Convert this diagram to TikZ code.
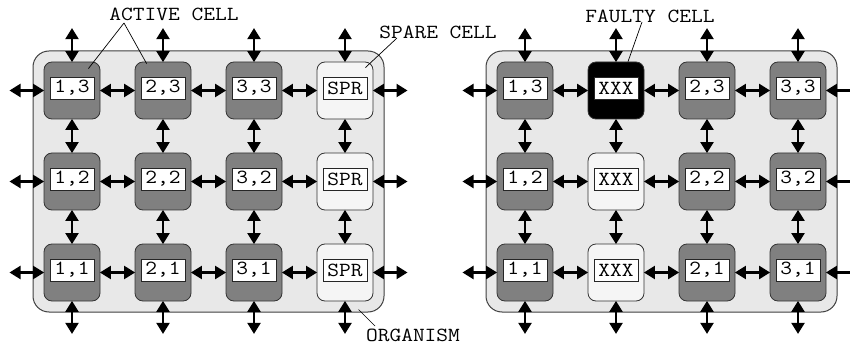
\documentclass[tikz,border=0pt]{standalone}
\usepackage{fontspec}
\setmonofont[FakeStretch=1.14]{Latin Modern Mono}
\usetikzlibrary{arrows.meta,calc}

\begin{document}
\begin{tikzpicture}[x=1pt,y=-1pt,
  organism/.style={draw=black!75, fill=black!9, rounded corners=16pt, line width=1pt,
                   minimum width=351pt, minimum height=261pt, inner sep=0pt},
  cellbox/.style={draw=black!80, rounded corners=8pt, line width=0.8pt,
                  minimum width=56pt, minimum height=57pt, inner sep=0pt},
  activecell/.style={cellbox, fill=black!50},
  sparecell/.style={cellbox, fill=black!4},
  faultycell/.style={cellbox, fill=black},
  tag/.style={draw=black!85, fill=white, line width=0.7pt, minimum width=44pt,
              minimum height=22pt, inner sep=0pt, font=\ttfamily\fontsize{20}{20}\selectfont},
  link/.style={{Triangle[length=11pt,width=13pt]}-{Triangle[length=11pt,width=13pt]},
               line width=2.2pt, shorten <=-0.5pt, shorten >=-0.5pt},
  annot/.style={font=\ttfamily\fontsize{20}{20}\selectfont, inner sep=0pt},
  leader/.style={line width=0.7pt}
]
\clip (0,0) rectangle (850,347);
\useasboundingbox (0,0) rectangle (850,347);

% organisms
\node[organism] (orgL) at (208.5,181.5) {};
\node[organism] (orgR) at (661.5,181.5) {};

% left organism: three active columns and one spare column
\foreach \r/\y/\n in {1/90.5/3, 2/181.5/2, 3/272.5/1} {
  \foreach \c/\x in {1/72, 2/163, 3/254} {
    \node[activecell] (L\c\r) at (\x,\y) {};
    \node[tag] (L\c\r t) at (\x,\y-2.5) {\c,\n};
  }
  \node[sparecell] (L4\r) at (345,\y) {};
  \node[tag] (L4\r t) at (345,\y-2.5) {SPR};
}

% right organism: column 2 replaced, spare column used
\foreach \r/\y/\n in {1/90.5/3, 2/181.5/2, 3/272.5/1} {
  \node[activecell] (R1\r) at (525,\y) {};
  \node[tag] (R1\r t) at (525,\y-2.5) {1,\n};
  \node[activecell] (R3\r) at (707,\y) {};
  \node[tag] (R3\r t) at (707,\y-2.5) {2,\n};
  \node[activecell] (R4\r) at (798,\y) {};
  \node[tag] (R4\r t) at (798,\y-2.5) {3,\n};
}
\node[faultycell] (R21) at (616,90.5) {};
\node[tag] (R21t) at (616,88) {XXX};
\foreach \r/\y in {2/181.5, 3/272.5} {
  \node[sparecell] (R2\r) at (616,\y) {};
  \node[tag] (R2\r t) at (616,\y-2.5) {XXX};
}

% connections
\foreach \p/\xl/\xr in {L/10/407, R/463/864} {
  \foreach \c in {1,2,3,4} {
    \coordinate (\p top\c) at ($(\p\c1.north)+(0,-33)$);
    \coordinate (\p bot\c) at ($(\p\c3.south)+(0,32)$);
    \draw[link] (\p top\c) -- (\p\c1.north);
    \draw[link] (\p\c1.south) -- (\p\c2.north);
    \draw[link] (\p\c2.south) -- (\p\c3.north);
    \draw[link] (\p\c3.south) -- (\p bot\c);
  }
  \foreach \r in {1,2,3} {
    \coordinate (\p left\r) at (\xl,0 |- \p1\r.west);
    \coordinate (\p right\r) at (\xr,0 |- \p4\r.east);
    \draw[link] (\p left\r) -- (\p1\r.west);
    \draw[link] (\p1\r.east) -- (\p2\r.west);
    \draw[link] (\p2\r.east) -- (\p3\r.west);
    \draw[link] (\p3\r.east) -- (\p4\r.west);
    \draw[link] (\p4\r.east) -- (\p right\r);
  }
}

% annotations
\node[annot] (active) at (174,14) {ACTIVE CELL};
\node[annot] (spare) at (438,32) {SPARE CELL};
\node[annot] (organ) at (413,335) {ORGANISM};
\node[annot] (faulty) at (650,16) {FAULTY CELL};

\coordinate (activefoot) at (124,23);
\draw[leader] (activefoot) -- ($(L11.north east)+(-12,7)$);
\draw[leader] (activefoot) -- ($(L21.north west)+(12,2)$);
\coordinate (sparefoot) at (397,38);
\draw[leader] (sparefoot) -- ($(L41.north east)+(-8,6)$);
\coordinate (organfoot) at (375,326);
\draw[leader] (organfoot) -- ($(orgL.south east)+(-26,-3)$);
\coordinate (faultyfoot) at (642,22);
\draw[leader] (faultyfoot) -- ($(R21.north)+(12,0)$);
\end{tikzpicture}
\end{document}
